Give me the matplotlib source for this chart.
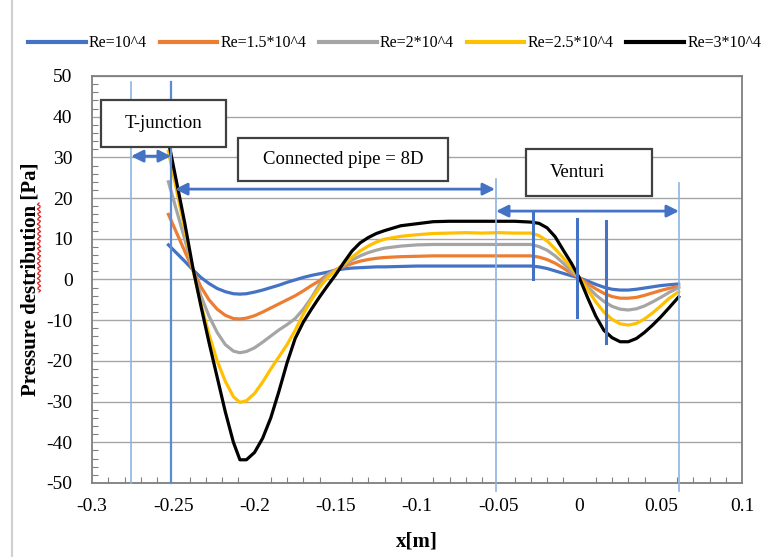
import numpy as np
import matplotlib
matplotlib.use("Agg")
import matplotlib.pyplot as plt
from matplotlib.patches import Rectangle
from matplotlib.lines import Line2D

plt.rcParams['font.family'] = ['Liberation Serif', 'DejaVu Serif']
plt.rcParams['axes.unicode_minus'] = False

# x positions along the pipe [m]
x = [-0.253, -0.248, -0.243, -0.238, -0.233, -0.228, -0.223, -0.218, -0.213, -0.209,
     -0.205, -0.200, -0.195, -0.190, -0.185, -0.180, -0.175, -0.170, -0.165, -0.160,
     -0.155, -0.150, -0.145, -0.140, -0.135, -0.130, -0.125, -0.120, -0.110, -0.100,
     -0.090, -0.080, -0.070, -0.060, -0.050, -0.040, -0.030, -0.025, -0.020, -0.015,
     -0.010, -0.005, 0.000, 0.005, 0.010, 0.015, 0.020, 0.025, 0.030, 0.035,
     0.040, 0.045, 0.050, 0.055, 0.061]

p_re1 = [8.5, 6.5, 4.5, 2.4, 0.5, -1.0, -2.2, -3.0, -3.5, -3.6,
         -3.5, -3.1, -2.6, -2.0, -1.4, -0.7, -0.1, 0.5, 1.0, 1.4,
         1.8, 2.3, 2.6, 2.8, 2.9, 3.0, 3.1, 3.1, 3.2, 3.3,
         3.3, 3.3, 3.3, 3.3, 3.3, 3.3, 3.3, 3.1, 2.7, 2.1,
         1.5, 0.9, 0.4, -0.4, -1.2, -1.9, -2.4, -2.6, -2.6, -2.4,
         -2.1, -1.8, -1.5, -1.3, -1.1]

p_re15 = [16.0, 11.5, 7.0, 2.4, -1.8, -5.0, -7.3, -8.8, -9.6, -9.7,
          -9.5, -8.9, -8.0, -7.0, -6.0, -5.0, -4.0, -2.8, -1.5, -0.3,
          1.3, 2.4, 3.2, 3.9, 4.5, 4.9, 5.2, 5.4, 5.6, 5.7,
          5.8, 5.8, 5.8, 5.8, 5.8, 5.8, 5.8, 5.5, 4.9, 4.0,
          2.8, 1.5, 0.4, -1.0, -2.3, -3.4, -4.2, -4.6, -4.6, -4.4,
          -3.9, -3.3, -2.7, -2.2, -1.7]

p_re2 = [24.0, 17.0, 10.0, 2.5, -4.0, -9.0, -13.0, -16.0, -17.6, -18.0,
         -17.7, -16.8, -15.4, -13.9, -12.4, -11.1, -9.6, -7.3, -4.5, -1.2,
         1.2, 2.4, 3.5, 4.8, 5.8, 6.6, 7.2, 7.7, 8.2, 8.5,
         8.6, 8.6, 8.6, 8.6, 8.6, 8.6, 8.6, 8.1, 7.2, 5.8,
         4.0, 2.0, 0.4, -1.8, -3.8, -5.4, -6.6, -7.3, -7.5, -7.2,
         -6.5, -5.5, -4.4, -3.2, -2.0]

p_re25 = [31.5, 22.0, 12.5, 2.5, -6.0, -13.5, -20.0, -25.0, -28.8, -30.2,
          -29.8, -28.0, -25.2, -22.0, -19.0, -16.0, -12.5, -8.5, -5.0, -2.0,
          0.5, 2.2, 3.8, 5.5, 7.0, 8.2, 9.2, 9.9, 10.6, 11.0,
          11.3, 11.4, 11.5, 11.4, 11.5, 11.4, 11.4, 10.8, 9.5, 7.5,
          5.3, 2.8, 0.4, -2.5, -5.5, -8.0, -9.8, -10.9, -11.2, -10.8,
          -9.7, -8.2, -6.5, -4.7, -3.0]

p_re3 = [34.0, 24.0, 14.0, 3.0, -6.5, -15.5, -24.0, -32.5, -40.0, -44.3,
         -44.3, -42.5, -39.0, -34.0, -27.5, -20.5, -14.5, -10.5, -7.3, -4.3,
         -1.5, 1.2, 4.2, 7.0, 9.0, 10.3, 11.3, 12.0, 13.2, 13.7,
         14.2, 14.3, 14.3, 14.3, 14.3, 14.3, 14.1, 13.8, 12.7, 10.5,
         7.2, 4.0, 0.3, -4.5, -9.0, -12.5, -14.3, -15.3, -15.3, -14.5,
         -13.0, -11.2, -9.2, -7.0, -4.3]

labels = ['Re=10^4', 'Re=1.5*10^4', 'Re=2*10^4', 'Re=2.5*10^4', 'Re=3*10^4']
colors = ['#4472C4', '#ED7D31', '#A5A5A5', '#FFC000', '#000000']
series = [p_re1, p_re15, p_re2, p_re25, p_re3]

xticks = [-0.3, -0.25, -0.2, -0.15, -0.1, -0.05, 0, 0.05, 0.1]
xticklabels = ['-0.3', '-0.25', '-0.2', '-0.15', '-0.1', '-0.05', '0', '0.05', '0.1']
yticks = [-50, -40, -30, -20, -10, 0, 10, 20, 30, 40, 50]

# section markers
tj_left, tj_right = -0.276, -0.2514
pipe_end, venturi_end = -0.0514, 0.0612
venturi_marks = [(-0.0286, 16.3, 0.0), (-0.0015, 14.9, -9.2), (0.0163, 14.4, -15.6)]

fig, ax = plt.subplots(figsize=(7.74, 5.57), dpi=100)
fig.subplots_adjust(left=0.1189, right=0.9587, bottom=0.1329, top=0.8636)

for y, lab, c in zip(series, labels, colors):
    ax.plot(x, y, color=c, lw=2.3, label=lab, zorder=3, solid_joinstyle='round')

ax.set_xlim(-0.3, 0.1)
ax.set_ylim(-50, 50)
ax.set_xticks(xticks)
ax.set_xticklabels(xticklabels)
ax.set_yticks(yticks)
ax.set_xticks(np.arange(-0.3, 0.1001, 0.01), minor=True)
ax.set_yticks(np.arange(-50, 50.1, 2), minor=True)
ax.tick_params(axis='both', which='major', length=0, labelsize=14)
ax.tick_params(axis='y', which='major', pad=14)
ax.tick_params(axis='x', which='major', pad=11)
ax.tick_params(axis='both', which='minor', direction='in', length=4, width=0.8, color='#808080')
ax.tick_params(axis='x', which='minor', top=False)
ax.tick_params(axis='y', which='minor', right=False)

ax.grid(axis='y', which='major', color='#A6A6A6', lw=1.0, zorder=0)
ax.set_axisbelow(True)
for s in ax.spines.values():
    s.set_color('#7F7F7F')
    s.set_linewidth(1.3)

ax.set_xlabel('x[m]', fontsize=15, fontweight='bold', labelpad=12)
ax.set_ylabel('Pressure destribution [Pa]', fontsize=15, fontweight='bold', labelpad=4)

# vertical section lines
ax.plot([tj_left, tj_left], [48.5, -50], color='#8EB4E3', lw=1.2, zorder=4, clip_on=False)
ax.plot([tj_right, tj_right], [48.5, -50], color='#5B8BD6', lw=1.6, zorder=4, clip_on=False)
ax.plot([pipe_end, pipe_end], [24.6, -52], color='#8EB4E3', lw=1.2, zorder=4, clip_on=False)
ax.plot([venturi_end, venturi_end], [23.7, -52], color='#8EB4E3', lw=1.2, zorder=4, clip_on=False)
for xm, y0, y1 in venturi_marks:
    ax.plot([xm, xm], [y0, y1], color='#4472C4', lw=2.2, zorder=4)

# double arrows
arrow_kw = dict(arrowstyle='<|-|>', color='#4472C4', lw=2.0, mutation_scale=18,
                shrinkA=0, shrinkB=0)
ax.annotate('', xy=(tj_left, 30.3), xytext=(tj_right, 30.3), arrowprops=arrow_kw, zorder=6)
ax.annotate('', xy=(-0.2489, 22.2), xytext=(-0.052, 22.2), arrowprops=arrow_kw, zorder=6)
ax.annotate('', xy=(pipe_end, 16.8), xytext=(venturi_end, 16.8), arrowprops=arrow_kw, zorder=6)

# text boxes
boxes = [((-0.2945, 32.6), 0.077, 11.5, 'T-junction', -0.256, 38.4),
         ((-0.2102, 24.2), 0.1293, 10.6, 'Connected pipe = 8D', -0.1455, 29.6),
         ((-0.0329, 20.5), 0.0775, 11.6, 'Venturi', -0.0015, 26.4)]
for (bx, by), bw, bh, txt, tx, ty in boxes:
    ax.add_patch(Rectangle((bx, by), bw, bh, facecolor='white', edgecolor='#404040',
                           lw=1.6, zorder=7))
    ax.text(tx, ty, txt, ha='center', va='center', fontsize=13.5, zorder=8)

# legend
handles = [Line2D([0], [0], color=c, lw=3) for c in colors]
fig.legend(handles, labels, loc='center', bbox_to_anchor=(0.51, 0.922), ncol=5,
           frameon=False, fontsize=11.5, handlelength=3.6, handletextpad=0.2,
           columnspacing=0.8)

# chart-area border and spell-check squiggle
fig.add_artist(Line2D([12 / 774, 12 / 774], [0, 1], color='#D0D0D0', lw=1.5))
sq_y = np.linspace((557 - 292) / 557, (557 - 203) / 557, 60)
sq_x = 39 / 774 + 0.0022 * np.sin(np.linspace(0, 36 * np.pi, 60))
fig.add_artist(Line2D(sq_x, sq_y, color='#E02020', lw=0.9))

fig.savefig('out.png', dpi=100)
